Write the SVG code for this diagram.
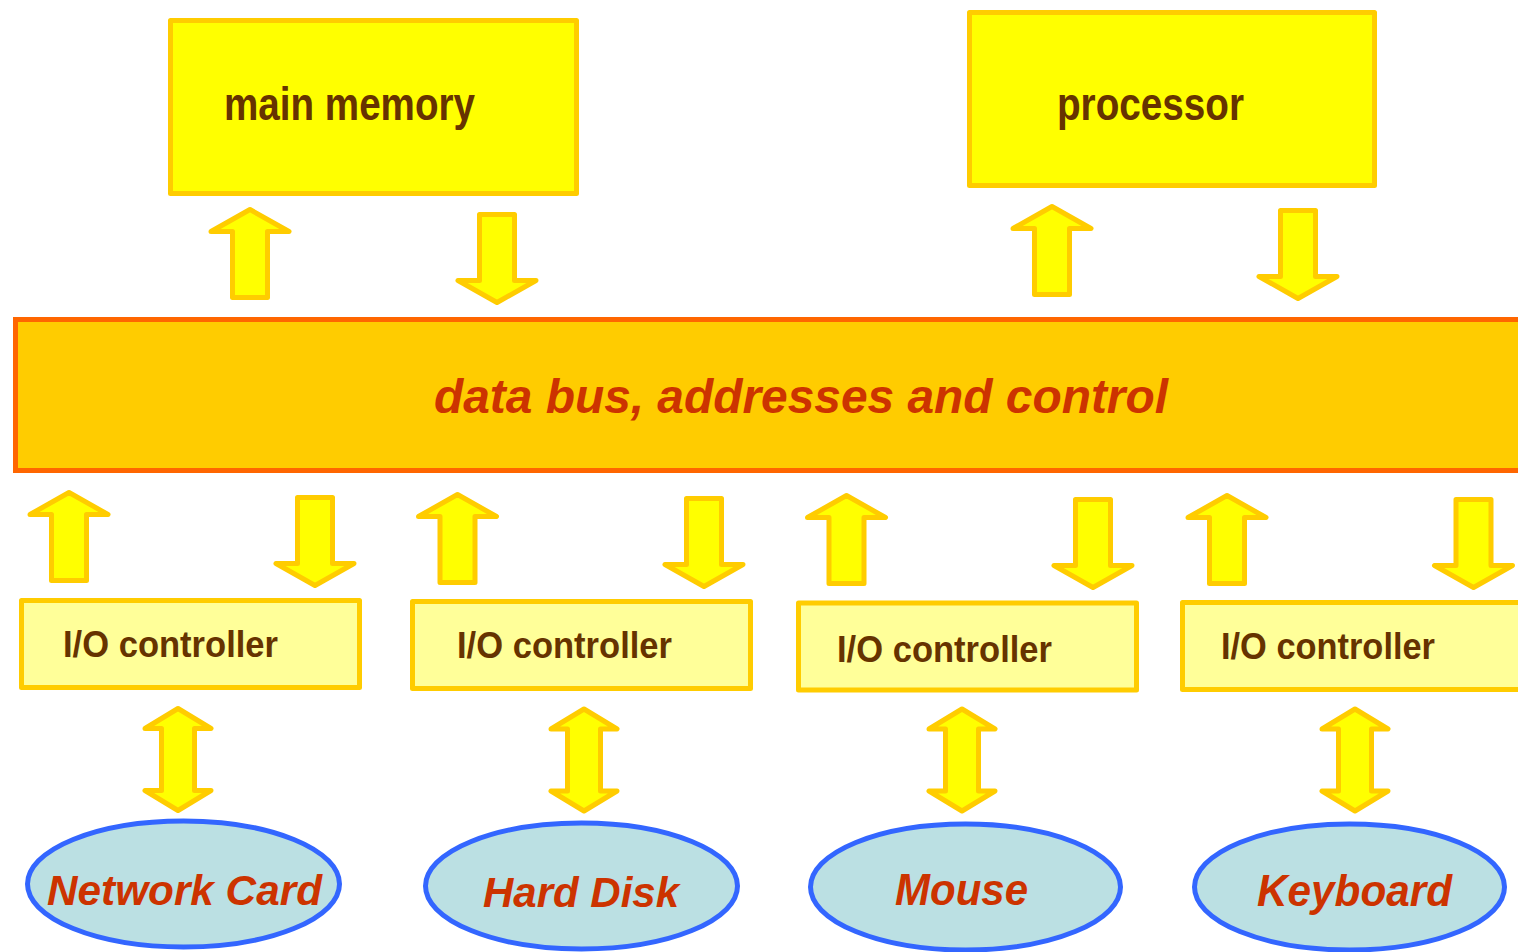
<svg xmlns="http://www.w3.org/2000/svg" xmlns:xlink="http://www.w3.org/1999/xlink" width="1518" height="952" viewBox="0 0 1518 952">
  <style>
    .unit { fill: #FFFF00; stroke: #FFCC00; stroke-width: 5; stroke-linejoin: round; }
    .ctrl { fill: #FFFF99; stroke: #FFCC00; stroke-width: 5; stroke-linejoin: round; }
    .bus { fill: #FFCC00; stroke: #FF6600; stroke-width: 5; }
    .dev { fill: #BBE0E3; stroke: #3366FF; stroke-width: 5; }
    .arrow { fill: #FFFF00; stroke: #FFCC00; stroke-width: 5; stroke-linejoin: round; }
    .label { font-family: "Liberation Sans", Arial, sans-serif; font-weight: bold; fill: #663300; }
    .big { font-size: 46px; }
    .mid { font-size: 37px; }
    .italic { font-family: "Liberation Sans", Arial, sans-serif; font-weight: bold; font-style: italic; fill: #CC3300; }
  </style>
  <defs>
    <!-- block arrows, tip / top at (0,0) -->
    <polygon id="up" points="0,0 39,22 17.5,22 17.5,88 -17.5,88 -17.5,22 -39,22"/>
    <polygon id="down" points="-17.5,0 17.5,0 17.5,66 39,66 0,88 -39,66 -17.5,66"/>
    <polygon id="both" points="0,0 33,20 16.5,20 16.5,82 33,82 0,102 -33,82 -16.5,82 -16.5,20 -33,20"/>
  </defs>
  <rect width="1518" height="952" fill="#FFFFFF"/>

  <g id="connectors">
    <!-- main memory <-> bus -->
    <use xlink:href="#up" class="arrow" x="250" y="209.5"/>
    <use xlink:href="#down" class="arrow" x="497" y="214.5"/>
    <!-- processor <-> bus -->
    <use xlink:href="#up" class="arrow" x="1052" y="206.5"/>
    <use xlink:href="#down" class="arrow" x="1298" y="210.5"/>
    <!-- controllers <-> bus -->
    <use xlink:href="#up" class="arrow" x="69" y="492.5"/>
    <use xlink:href="#down" class="arrow" x="315" y="497.5"/>
    <use xlink:href="#up" class="arrow" x="457.5" y="494.5"/>
    <use xlink:href="#down" class="arrow" x="704" y="498.5"/>
    <use xlink:href="#up" class="arrow" x="846.5" y="495.5"/>
    <use xlink:href="#down" class="arrow" x="1093" y="499.5"/>
    <use xlink:href="#up" class="arrow" x="1227" y="495.5"/>
    <use xlink:href="#down" class="arrow" x="1473.5" y="499.5"/>
    <!-- controllers <-> devices -->
    <use xlink:href="#both" class="arrow" x="178" y="708.5"/>
    <use xlink:href="#both" class="arrow" x="584" y="709"/>
    <use xlink:href="#both" class="arrow" x="962" y="709"/>
    <use xlink:href="#both" class="arrow" x="1355" y="709"/>
  </g>

  <g id="main-memory">
    <rect class="unit" x="170.5" y="20.5" width="406" height="173"/>
    <text class="label big" x="224" y="120" textLength="251" lengthAdjust="spacingAndGlyphs">main memory</text>
  </g>

  <g id="processor">
    <rect class="unit" x="969.5" y="12.5" width="405" height="173"/>
    <text class="label big" x="1057" y="120" textLength="187" lengthAdjust="spacingAndGlyphs">processor</text>
  </g>

  <g id="bus">
    <rect class="bus" x="15.5" y="319.5" width="1520" height="151"/>
    <text class="italic" font-size="48" x="434" y="413" textLength="734" lengthAdjust="spacingAndGlyphs">data bus, addresses and control</text>
  </g>

  <g id="io-controller-1">
    <rect class="ctrl" x="21.5" y="600.5" width="338" height="87"/>
    <text class="label mid" x="63" y="657" textLength="215" lengthAdjust="spacingAndGlyphs">I/O controller</text>
  </g>
  <g id="io-controller-2">
    <rect class="ctrl" x="412.5" y="601.5" width="338" height="87"/>
    <text class="label mid" x="457" y="658" textLength="215" lengthAdjust="spacingAndGlyphs">I/O controller</text>
  </g>
  <g id="io-controller-3">
    <rect class="ctrl" x="798.5" y="603" width="338" height="87"/>
    <text class="label mid" x="837" y="662" textLength="215" lengthAdjust="spacingAndGlyphs">I/O controller</text>
  </g>
  <g id="io-controller-4">
    <rect class="ctrl" x="1182.5" y="602.5" width="400" height="87"/>
    <text class="label mid" x="1221" y="659" textLength="214" lengthAdjust="spacingAndGlyphs">I/O controller</text>
  </g>

  <g id="network-card">
    <ellipse class="dev" cx="183.5" cy="884" rx="156" ry="63"/>
    <text class="italic" font-size="43" x="47" y="905" textLength="275" lengthAdjust="spacingAndGlyphs">Network Card</text>
  </g>
  <g id="hard-disk">
    <ellipse class="dev" cx="581.5" cy="886" rx="156" ry="63"/>
    <text class="italic" font-size="43" x="483" y="907" textLength="196" lengthAdjust="spacingAndGlyphs">Hard Disk</text>
  </g>
  <g id="mouse">
    <ellipse class="dev" cx="965.5" cy="887" rx="155" ry="63"/>
    <text class="italic" font-size="44" x="895" y="905" textLength="133" lengthAdjust="spacingAndGlyphs">Mouse</text>
  </g>
  <g id="keyboard">
    <ellipse class="dev" cx="1349.5" cy="887" rx="155" ry="63"/>
    <text class="italic" font-size="44" x="1257" y="906" textLength="195" lengthAdjust="spacingAndGlyphs">Keyboard</text>
  </g>
</svg>
